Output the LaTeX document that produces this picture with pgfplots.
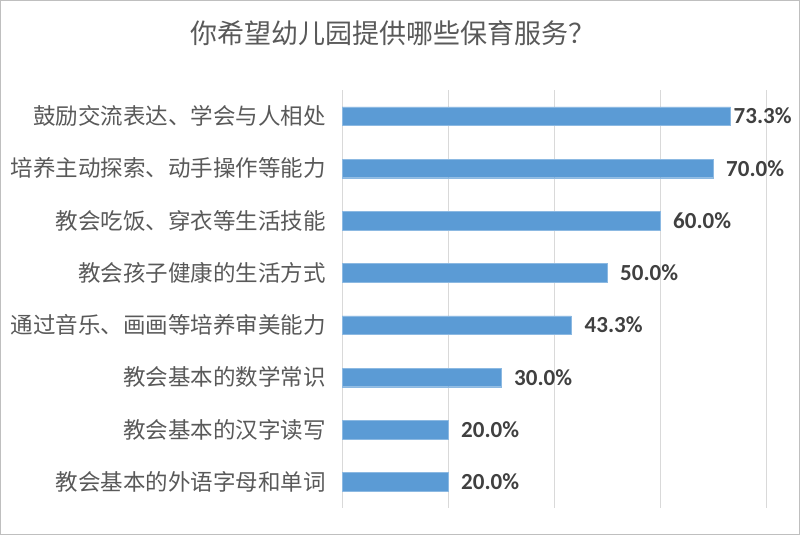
\documentclass[border=0pt]{standalone}
\usepackage{fontspec}
\setmainfont{Carlito}
\newfontfamily\cjk{Noto Sans CJK SC}
\usepackage{pgfplots}
\pgfplotsset{compat=1.18}
\usepackage{pgfplotstable}
\definecolor{barblue}{HTML}{5B9BD5}
\definecolor{gridc}{HTML}{D9D9D9}
\definecolor{txt}{HTML}{595959}
\definecolor{lbl}{HTML}{404040}
\definecolor{frame}{HTML}{BFBFBF}

\pgfplotstableread{
idx val sh
0 73.3 3
1 70.0 13
2 60.0 13
3 50.0 13
4 43.3 13
5 30.0 13
6 20.0 13
7 20.0 13
}\data

\begin{document}
\begin{tikzpicture}[x=1bp,y=1bp]
\draw[frame, line width=1bp] (0.5,0.5) rectangle (799.5,534.5);
\node[font=\cjk\fontsize{27bp}{31bp}\selectfont, text=txt, anchor=center] at (393,502) {你希望幼儿园提供哪些保育服务？};
\begin{axis}[
  at={(342bp,27bp)}, anchor=south west,
  scale only axis, width=424bp, height=418bp,
  xmin=0, xmax=80, ymin=-0.5, ymax=7.5,
  y dir=reverse,
  xbar, bar width=18.7bp,
  xtick={0,20,40,60,80}, xticklabels={},
  xmajorgrids, grid style={gridc, line width=1bp},
  ytick={0,...,7},
  yticklabels={鼓励交流表达、学会与人相处,培养主动探索、动手操作等能力,教会吃饭、穿衣等生活技能,教会孩子健康的生活方式,通过音乐、画画等培养审美能力,教会基本的数学常识,教会基本的汉字读写,教会基本的外语字母和单词},
  yticklabel style={font=\cjk\fontsize{22.5bp}{26bp}\selectfont, text=txt, inner sep=0pt, xshift=-16bp},
  major tick length=0pt,
  axis line style={draw=none},
  point meta=x,
  visualization depends on={\thisrow{sh} \as \sh},
  nodes near coords={\pgfmathprintnumber[fixed,zerofill,precision=1,assume math mode=true]{\pgfplotspointmeta}\%},
  every node near coord/.append style={font=\bfseries\fontsize{23bp}{27bp}\selectfont, text=lbl, anchor=west, inner sep=0pt, xshift=\sh bp},
  clip=false,
]
\addplot[fill=barblue, draw=barblue!70!white] table[x=val, y=idx] {\data};
\end{axis}
\end{tikzpicture}
\end{document}
